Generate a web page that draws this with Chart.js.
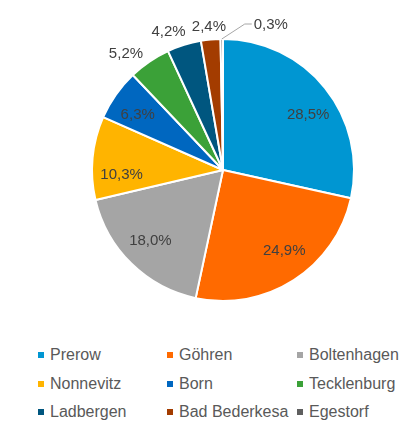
<!DOCTYPE html>
<html>
<head>
<meta charset="utf-8">
<script src="https://cdn.jsdelivr.net/npm/chart.js@4.4.0/dist/chart.umd.min.js"></script>
<style>
  html, body { margin: 0; padding: 0; background: #fff; }
  #wrap { position: relative; width: 416px; height: 422px; overflow: hidden; }
  #chartBox { position: absolute; left: 0; top: 0; width: 416px; height: 330px; }
  #legend {
    position: absolute; left: 38px; top: 341px;
    display: grid; grid-template-columns: 129px 130px 110px; grid-auto-rows: 28.5px;
    font: 16px "Liberation Sans", Arial, sans-serif; color: #595959;
  }
  #legend .item { display: flex; align-items: center; white-space: nowrap; }
  #legend .box { width: 6px; height: 6px; margin-right: 6px; flex: none; }
</style>
</head>
<body>
<div id="wrap">
  <div id="chartBox"><canvas id="chart"></canvas></div>
  <div id="legend"></div>
</div>
<script>
const places = ["Prerow", "Göhren", "Boltenhagen", "Nonnevitz", "Born", "Tecklenburg", "Ladbergen", "Bad Bederkesa", "Egestorf"];
const shares = [28.5, 24.9, 18.0, 10.3, 6.3, 5.2, 4.2, 2.4, 0.3];
const shareLabels = ["28,5%", "24,9%", "18,0%", "10,3%", "6,3%", "5,2%", "4,2%", "2,4%", "0,3%"];
const sliceColors = ["#0096d2", "#ff6a00", "#a5a5a5", "#ffb400", "#0067c0", "#3ba138", "#00567f", "#a33c00", "#5f5f5f"];

// angular nudges (degrees) so labels sit where the original put them
const labelNudge = [5.8, -4.4, 1.2, -7.9, -2.3, -5.6, -4.3, -0.2, 0];

const pieLabels = {
    id: "pieLabels",
    afterDatasetsDraw(chart) {
        const ctx = chart.ctx;
        const arcs = chart.getDatasetMeta(0).data;
        ctx.save();
        ctx.font = "15px 'Liberation Sans', Arial, sans-serif";
        ctx.fillStyle = "#404040";
        ctx.textBaseline = "middle";
        arcs.forEach((arc, i) => {
            const { x, y, startAngle, endAngle, outerRadius } =
                arc.getProps(["x", "y", "startAngle", "endAngle", "outerRadius"], true);
            const text = shareLabels[i];
            const mid = (startAngle + endAngle) / 2;
            const a = mid + labelNudge[i] * Math.PI / 180;
            const value = shares[i];
            if (value >= 6) {
                const r = outerRadius * 0.775;
                ctx.textAlign = "center";
                ctx.fillText(text, x + Math.cos(a) * r, y + Math.sin(a) * r);
            } else if (value >= 1) {
                const w = ctx.measureText(text).width;
                const h = 15;
                const ext = Math.abs(Math.cos(a)) * w / 2 + Math.abs(Math.sin(a)) * h / 2;
                const r = outerRadius + 4 + ext;
                ctx.textAlign = "center";
                ctx.fillText(text, x + Math.cos(a) * r, y + Math.sin(a) * r);
            } else {
                // tiny slice: leader line
                const sx = x + Math.cos(mid) * outerRadius;
                const sy = y + Math.sin(mid) * outerRadius;
                const ex = sx + 23;
                const ey = sy - 15;
                ctx.strokeStyle = "#a6a6a6";
                ctx.lineWidth = 1;
                ctx.beginPath();
                ctx.moveTo(sx, sy);
                ctx.lineTo(ex, ey);
                ctx.lineTo(ex + 7, ey);
                ctx.stroke();
                ctx.textAlign = "left";
                ctx.fillText(text, ex + 9, ey + 1);
            }
        });
        ctx.restore();
    }
};

new Chart(document.getElementById("chart"), {
    type: "pie",
    data: {
        labels: places,
        datasets: [{
            data: shares,
            backgroundColor: sliceColors,
            borderColor: "#ffffff",
            borderWidth: 2,
            hoverOffset: 0
        }]
    },
    options: {
        responsive: true,
        maintainAspectRatio: false,
        animation: false,
        layout: { padding: { left: 91, right: 61, top: 38, bottom: 28 } },
        plugins: {
            legend: { display: false },
            tooltip: { enabled: false }
        }
    },
    plugins: [pieLabels]
});

// legend laid out in three columns like the original
const legendEl = document.getElementById("legend");
places.forEach((name, i) => {
    const item = document.createElement("div");
    item.className = "item";
    const box = document.createElement("span");
    box.className = "box";
    box.style.background = sliceColors[i];
    item.appendChild(box);
    item.appendChild(document.createTextNode(name));
    legendEl.appendChild(item);
});
</script>
</body>
</html>
